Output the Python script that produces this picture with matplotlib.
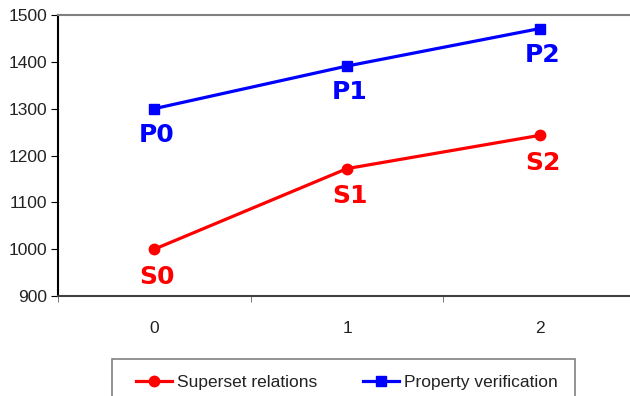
import matplotlib
matplotlib.use("Agg")
import matplotlib.pyplot as plt
from matplotlib.patches import Rectangle
from matplotlib.ticker import FixedLocator

plt.rcParams['font.family'] = ['Liberation Sans', 'DejaVu Sans']

# Data
categories = [0, 1, 2]
superset = [1000, 1172, 1243]
property_ver = [1300, 1391, 1471]
superset_labels = ['S0', 'S1', 'S2']
property_labels = ['P0', 'P1', 'P2']

fig = plt.figure(figsize=(6.3, 3.96), dpi=100)
ax = fig.add_axes([58 / 630, 100 / 396, 578 / 630, 281 / 396])

ax.plot(categories, superset, color='#FF0000', lw=2.3, marker='o', ms=7.5,
        label='Superset relations')
ax.plot(categories, property_ver, color='#0000FF', lw=2.3, marker='s', ms=7.5,
        label='Property verification')

# point labels below markers
lab_font = dict(family='DejaVu Sans', fontsize=18, fontweight='bold')
for x, y, t in zip(categories, superset, superset_labels):
    ax.annotate(t, (x, y), xytext=(2, -20), textcoords='offset points',
                ha='center', va='center', color='#FF0000', **lab_font)
for x, y, t in zip(categories, property_ver, property_labels):
    ax.annotate(t, (x, y), xytext=(2, -19), textcoords='offset points',
                ha='center', va='center', color='#0000FF', **lab_font)

ax.set_xlim(-0.5, 2.5)
ax.set_ylim(900, 1500)
ax.set_yticks(range(900, 1501, 100))
ax.set_xticks(categories)
ax.xaxis.set_minor_locator(FixedLocator([-0.5, 0.5, 1.5, 2.5]))
ax.tick_params(axis='x', which='major', length=0, pad=18, labelsize=12.5,
               labelcolor='#222222')
ax.tick_params(axis='x', which='minor', length=4, direction='out', color='#606060')
ax.tick_params(axis='y', length=5, direction='out', labelsize=12.5, pad=3,
               labelcolor='#222222')

ax.spines['left'].set_color('black')
ax.spines['bottom'].set_color('#404040')
ax.spines['top'].set_color('#808080')
ax.spines['right'].set_color('#808080')
for s in ax.spines.values():
    s.set_linewidth(1.5)

# legend box (bottom edge falls outside the image)
fig.patches.append(Rectangle((112 / 630, -0.05), 463 / 630, (396 - 359) / 396 + 0.05,
                             transform=fig.transFigure, fill=False,
                             edgecolor='#808080', lw=1.2))
fig.legend(loc='center left', bbox_to_anchor=(127 / 630, 1 - 382 / 396), ncol=2,
           frameon=False, fontsize=12.5, handlelength=2.1, handletextpad=0.3,
           columnspacing=2.6, borderpad=0, labelcolor='#222222')

fig.savefig('out.png', dpi=100)
